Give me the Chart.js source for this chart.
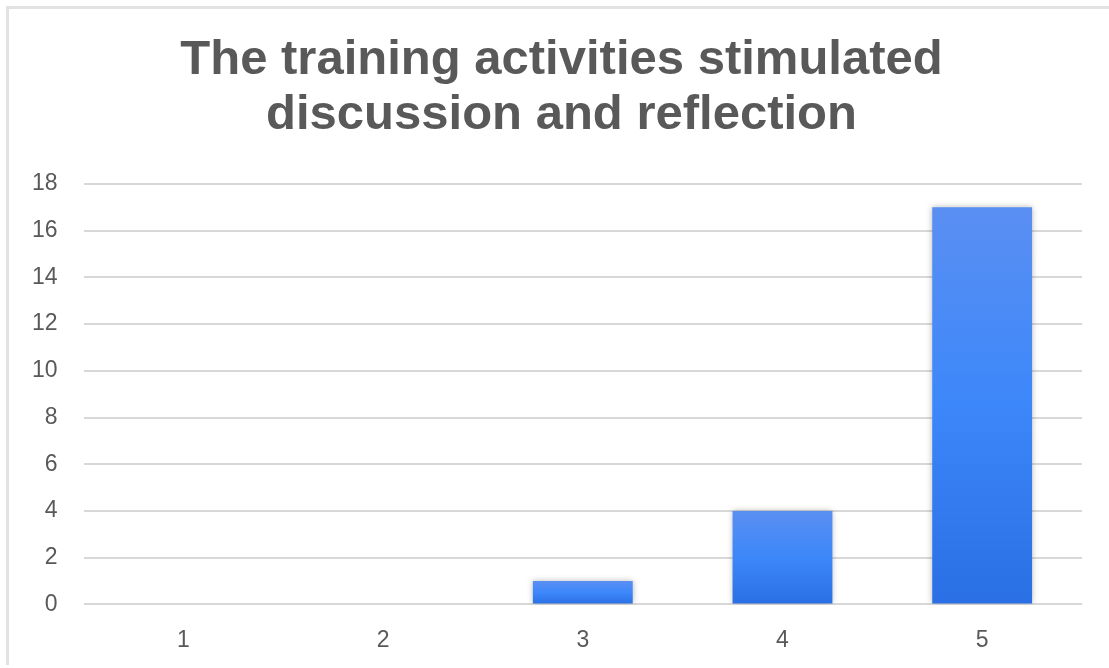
<!DOCTYPE html>
<html>
<head>
<meta charset="utf-8">
<title>The training activities stimulated discussion and reflection</title>
<script src="https://cdn.jsdelivr.net/npm/chart.js@4/dist/chart.umd.min.js"></script>
<style>
  html, body { margin: 0; padding: 0; background: #ffffff; }
  #wrap { position: relative; width: 1109px; height: 668px; overflow: hidden; }
  #frame {
    position: absolute; left: 6px; top: 6px; right: 0; bottom: 3px;
    border-left: 3px solid #e2e2e2; border-top: 3px solid #e2e2e2;
    pointer-events: none;
  }
  canvas { position: absolute; left: 0; top: 0; }
</style>
</head>
<body>
<div id="wrap">
  <canvas id="chart" width="1109" height="668"></canvas>
  <div id="frame"></div>
</div>
<script>
// Rating scale (1–5) and number of responses per rating
const categories = ['1', '2', '3', '4', '5'];
const responses = [0, 0, 1, 4, 17];
const titleLines = ['The training activities stimulated', 'discussion and reflection'];
const yTicks = [0, 2, 4, 6, 8, 10, 12, 14, 16, 18];

const FONT = "'Liberation Sans', Arial, Helvetica, sans-serif";
const TEXT_GREY = '#595959';

// Vertical gradient for each bar: lighter blue at the top, deeper blue at the base
function barGradient(context) {
  const chart = context.chart;
  const area = chart.chartArea;
  if (!area) return '#3b84f7';
  const y = chart.scales.y;
  const v = context.raw || 0;
  const top = y.getPixelForValue(v);
  const base = y.getPixelForValue(0);
  if (base - top < 1) return '#3b84f7';
  const g = chart.ctx.createLinearGradient(0, top, 0, base);
  g.addColorStop(0, '#5a8ff2');
  g.addColorStop(0.5, '#3c87fa');
  g.addColorStop(1, '#2a6fe4');
  return g;
}

// Soft drop shadow behind the bars
const barShadow = {
  id: 'barShadow',
  beforeDatasetsDraw(chart) {
    const ctx = chart.ctx;
    ctx.save();
    ctx.shadowColor = 'rgba(0, 0, 0, 0.28)';
    ctx.shadowBlur = 6;
    ctx.shadowOffsetX = 0;
    ctx.shadowOffsetY = 0;
  },
  afterDatasetsDraw(chart) {
    chart.ctx.restore();
  }
};

// Two-line bold heading, centred on the whole framed card
const cardTitle = {
  id: 'cardTitle',
  afterDraw(chart, args, opts) {
    const ctx = chart.ctx;
    ctx.save();
    ctx.fillStyle = opts.color;
    ctx.font = `bold ${opts.size}px ${FONT}`;
    ctx.textAlign = 'center';
    ctx.textBaseline = 'middle';
    opts.lines.forEach((line, i) => {
      ctx.fillText(line, opts.centerX, opts.firstLineY + i * opts.lineHeight);
    });
    ctx.restore();
  }
};

new Chart(document.getElementById('chart'), {
  type: 'bar',
  data: {
    labels: categories,
    datasets: [{
      data: responses,
      backgroundColor: barGradient,
      borderWidth: 0,
      categoryPercentage: 1,
      barPercentage: 0.5
    }]
  },
  options: {
    responsive: false,
    animation: false,
    layout: { padding: { left: 6, right: 27, top: 184, bottom: 0 } },
    plugins: {
      legend: { display: false },
      tooltip: { enabled: false },
      title: { display: false },
      cardTitle: {
        lines: titleLines,
        color: TEXT_GREY,
        size: 49,
        centerX: 561.5,
        firstLineY: 60.5,
        lineHeight: 55
      }
    },
    scales: {
      x: {
        grid: { display: false },
        border: { display: false },
        ticks: {
          color: TEXT_GREY,
          font: { family: FONT, size: 23 },
          padding: 14
        }
      },
      y: {
        min: 0,
        max: 18,
        afterBuildTicks(axis) {
          axis.ticks = yTicks.map(v => ({ value: v }));
        },
        grid: { color: '#d8d8d8', lineWidth: 2, drawTicks: false },
        border: { display: false },
        ticks: {
          color: TEXT_GREY,
          font: { family: FONT, size: 23 },
          padding: 26
        }
      }
    }
  },
  plugins: [barShadow, cardTitle]
});
</script>
</body>
</html>
